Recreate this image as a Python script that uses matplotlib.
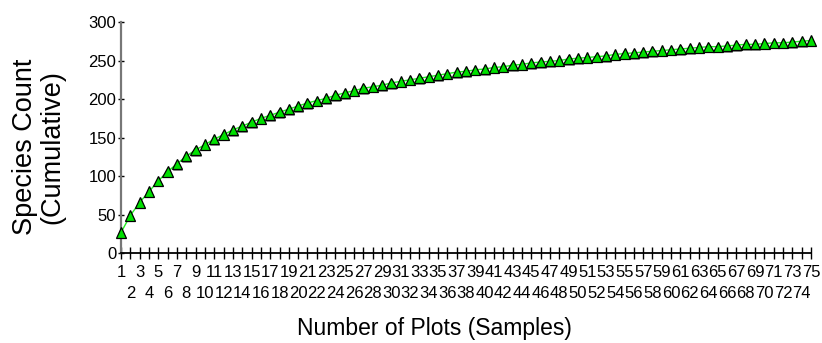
import matplotlib
matplotlib.use("Agg")
import matplotlib.pyplot as plt
import matplotlib.patheffects as pe

samples = list(range(1, 76))
species = [27, 49, 66, 80, 94, 106, 116, 126, 134, 141,
           148, 154, 160, 165, 170, 175, 179, 183, 187, 191,
           195, 198, 201, 205, 208, 211, 214, 216, 218, 221,
           223, 225, 227, 229, 231, 233, 235, 236, 238, 239,
           241, 242, 244, 245, 247, 248, 249, 250, 252, 253,
           254, 255, 256, 258, 259, 260, 261, 262, 263, 264,
           265, 266, 267, 268, 268, 269, 270, 271, 271, 272,
           273, 273, 274, 275, 276]
y_ticks = [0, 50, 100, 150, 200, 250, 300]
x_label = "Number of Plots (Samples)"
y_label = "Species Count\n(Cumulative)"

plt.rcParams['font.family'] = ['Liberation Sans', 'DejaVu Sans']

W, H = 822, 343
fig = plt.figure(figsize=(W / 100, H / 100), dpi=100)
ax = fig.add_axes([121 / W, 1 - 253.3 / H, (811 - 121) / W, (253.3 - 22) / H])

ax.plot(samples, species, '-', color='#22ee22', lw=1.0, zorder=2, clip_on=False)
ax.plot(samples, species, '^', ms=7.4, mfc='#00e000', mec='black', mew=0.9,
        zorder=3, clip_on=False,
        path_effects=[pe.SimplePatchShadow(offset=(0.6, -1.1), shadow_rgbFace='#777777', alpha=0.8),
                      pe.Normal()])

ax.set_xlim(1, 75)
ax.set_ylim(0, 300)

odd = [s for s in samples if s % 2 == 1]
even = [s for s in samples if s % 2 == 0]
ax.set_xticks(odd)
ax.set_xticklabels([str(s) for s in odd])
ax.set_xticks(even, minor=True)
ax.set_xticklabels([str(s) for s in even], minor=True)
ax.set_yticks(y_ticks)
ax.set_yticklabels([str(v) for v in y_ticks])

ax.tick_params(axis='x', which='both', direction='inout', length=8.5, width=1.0,
               color='black', labelsize=12)
ax.tick_params(axis='x', which='major', pad=4.5)
ax.tick_params(axis='x', which='minor', pad=19.5)
ax.tick_params(axis='y', direction='inout', length=5, width=1.0, color='black',
               labelsize=12, pad=1)

for s in ['top', 'right']:
    ax.spines[s].set_visible(False)
ax.spines['left'].set_color('#777777')
ax.spines['left'].set_linewidth(1.6)
ax.spines['bottom'].set_color('black')
ax.spines['bottom'].set_linewidth(1.3)

fig.text(434 / W, 1 - 328 / H, x_label, ha='center', va='center', fontsize=16.5)
fig.text(39 / W, 1 - 147 / H, y_label, ha='center', va='center', fontsize=19.5,
         rotation=90, linespacing=1.05, multialignment='center')

fig.savefig('out.png', dpi=100)
